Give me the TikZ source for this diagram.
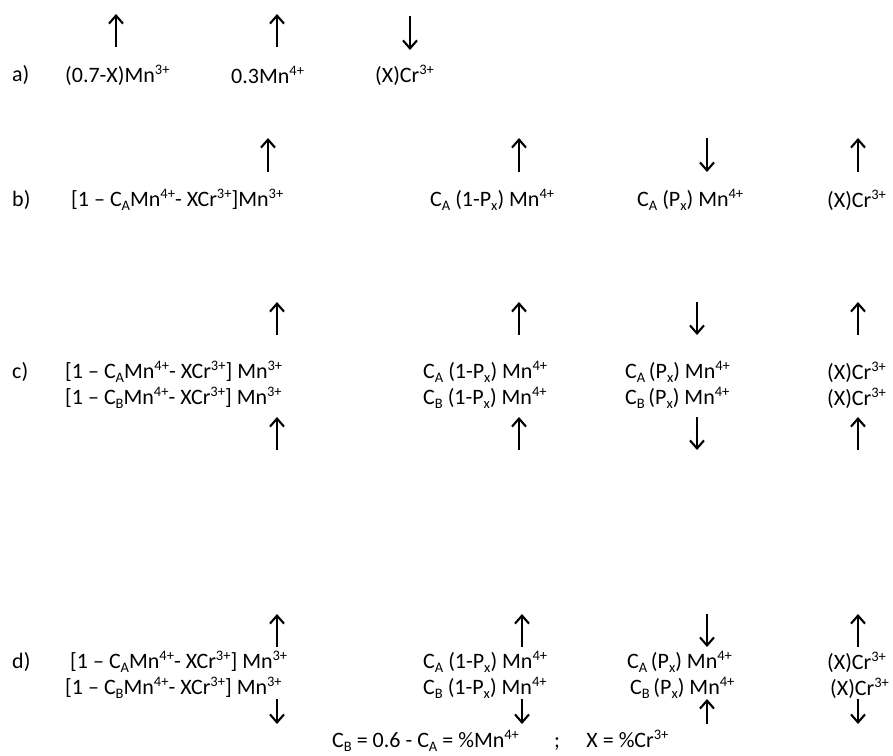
\documentclass[tikz,border=0pt]{standalone}
\usepackage{fontspec}
\setmainfont{Carlito}
\usetikzlibrary{arrows.meta}
\newcommand\sps[1]{\raisebox{0.36em}{\fontsize{14.5}{14.5}\selectfont #1}}
\newcommand\sbs[1]{\raisebox{-0.18em}{\fontsize{14.5}{14.5}\selectfont #1}}
\tikzset{
  lbl/.style={anchor=west, inner sep=0pt, font=\fontsize{22}{26}\selectfont},
  arr/.style={line width=2.1pt, -{Straight Barb[length=8pt,width=14pt,line width=2.1pt]}}
}
\begin{document}
\begin{tikzpicture}[x=1pt,y=-1pt]
\useasboundingbox (0,0) rectangle (893,755);
% row a
\node[lbl] (la) at (12,75) {a)};
\node[lbl] (a1) at (65,75) {(0.7-X)Mn\sps{3+}};
\node[lbl] (a2) at (231,75) {0.3Mn\sps{4+}};
\node[lbl] (a3) at (375,75) {(X)Cr\sps{3+}};
% row b
\node[lbl] (lb) at (12,200) {b)};
\node[lbl] (b1) at (71,200) {[1 – C\sbs{A}Mn\sps{4+}- XCr\sps{3+}]Mn\sps{3+}};
\node[lbl] (b2) at (430,200) {C\sbs{A} (1-P\sbs{x}) Mn\sps{4+}};
\node[lbl] (b3) at (637,200) {C\sbs{A} (P\sbs{x}) Mn\sps{4+}};
\node[lbl] (b4) at (827,200) {(X)Cr\sps{3+}};
% row c
\node[lbl] (lc) at (12,372) {c)};
\node[lbl] (c1) at (65,372) {[1 – C\sbs{A}Mn\sps{4+}- XCr\sps{3+}] Mn\sps{3+}};
\node[lbl] (c2) at (423,372) {C\sbs{A} (1-P\sbs{x}) Mn\sps{4+}};
\node[lbl] (c3) at (625,372) {C\sbs{A}\,(P\sbs{x}) Mn\sps{4+}};
\node[lbl] (c4) at (827,372) {(X)Cr\sps{3+}};
\node[lbl] (c5) at (65,398) {[1 – C\sbs{B}Mn\sps{4+}- XCr\sps{3+}] Mn\sps{3+}};
\node[lbl] (c6) at (423,398) {C\sbs{B} (1-P\sbs{x}) Mn\sps{4+}};
\node[lbl] (c7) at (625,398) {C\sbs{B}\,(P\sbs{x}) Mn\sps{4+}};
\node[lbl] (c8) at (827,398) {(X)Cr\sps{3+}};
% row d
\node[lbl] (ld) at (12,662) {d)};
\node[lbl] (d1) at (70,662) {[1 – C\sbs{A}Mn\sps{4+}- XCr\sps{3+}] Mn\sps{3+}};
\node[lbl] (d2) at (423,662) {C\sbs{A} (1-P\sbs{x}) Mn\sps{4+}};
\node[lbl] (d3) at (627,662) {C\sbs{A}\,(P\sbs{x}) Mn\sps{4+}};
\node[lbl] (d4) at (827,662) {(X)Cr\sps{3+}};
\node[lbl] (d5) at (65,688) {[1 – C\sbs{B}Mn\sps{4+}- XCr\sps{3+}] Mn\sps{3+}};
\node[lbl] (d6) at (423,688) {C\sbs{B} (1-P\sbs{x}) Mn\sps{4+}};
\node[lbl] (d7) at (630,688) {C\sbs{B}\,(P\sbs{x}) Mn\sps{4+}};
\node[lbl] (d8) at (830,688) {(X)Cr\sps{3+}};
% equation
\node[lbl] (eq) at (332,741) {C\sbs{B} = 0.6 - C\sbs{A} = \%Mn\sps{4+}\hspace{1.6em};\hspace{1.2em}X = \%Cr\sps{3+}};
% arrows: name/x/tail y/head y
\foreach \n/\x/\ya/\yb in {
  a1/116/47/14, a2/277/47/14, a3/410/16/50,
  b1/268/172/138, b2/519/172/138, b3/707/138/172, b4/858/172/138,
  c1/277/335/302, c2/519/335/302, c3/697/302/335, c4/858/335/302,
  c5/277/450/417, c6/519/450/417, c7/697/417/450, c8/858/450/417,
  d1/277/647/614, d2/522/647/614, d3/707/614/647, d4/858/647/614,
  d5/277/699/724, d6/522/699/724, d7/707/724/699, d8/858/699/724}
{
  \coordinate (t\n) at (\x,\ya);
  \coordinate (h\n) at (\x,\yb);
  \draw[arr] (t\n) -- (h\n);
}
\end{tikzpicture}
\end{document}
